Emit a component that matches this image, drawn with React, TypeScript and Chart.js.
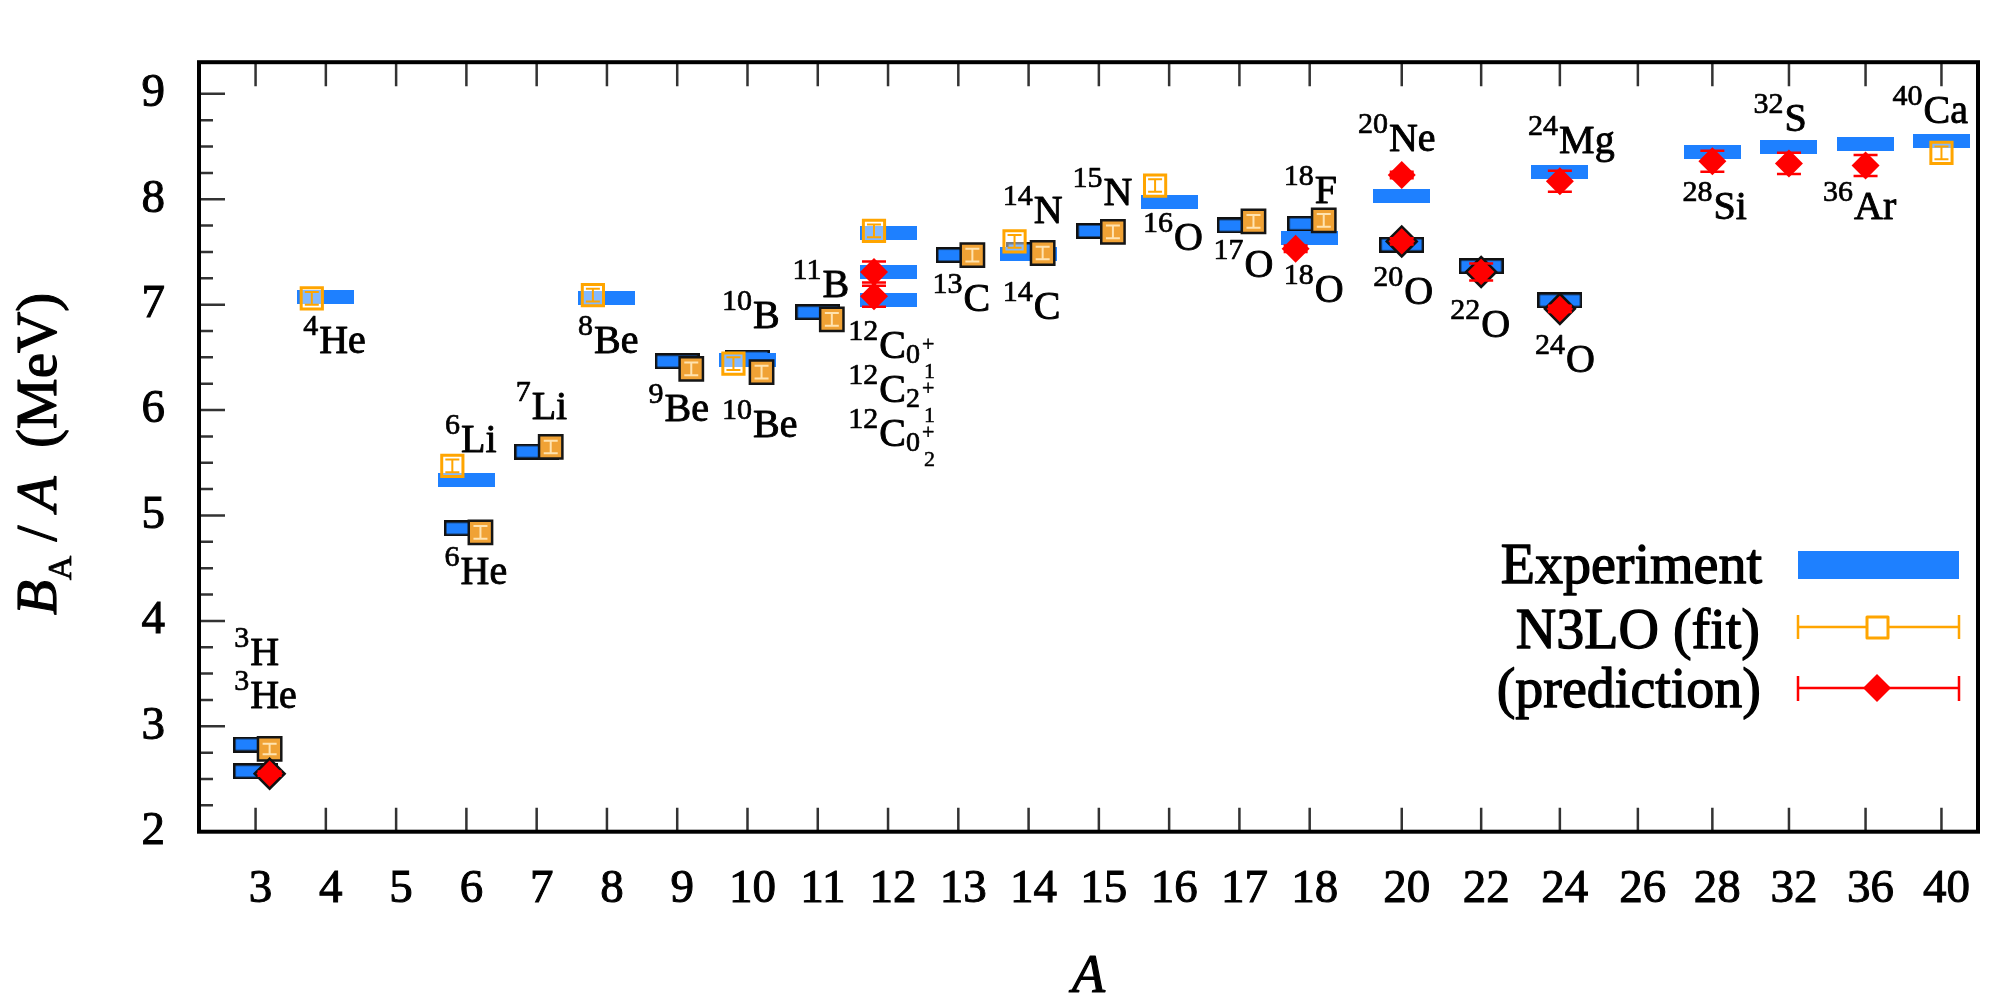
import React, { useEffect, useRef } from 'react';
import { Chart, registerables } from 'chart.js';

Chart.register(...registerables);

// ---------- axis ----------
const tickLabels = ['3', '4', '5', '6', '7', '8', '9', '10', '11', '12', '13', '14', '15', '16', '17', '18', '20', '22', '24', '26', '28', '32', '36', '40'];
// position of each category along the (non-uniform) x axis
const tickSlots = [3, 4, 5, 6, 7, 8, 9, 10, 11, 12, 13, 14, 15, 16, 17, 18, 19.31, 20.44, 21.56, 22.67, 23.73, 24.82, 25.91, 26.99];
const yMajorTicks = [2, 3, 4, 5, 6, 7, 8, 9];
const yMinorTicks = [2.25, 2.5, 2.75, 3.25, 3.5, 3.75, 4.25, 4.5, 4.75, 5.25, 5.5, 5.75, 6.25, 6.5, 6.75, 7.25, 7.5, 7.75, 8.25, 8.5, 8.75];

// ---------- Experiment ----------
const expPlainA = ['4', '6', '8', '10', '12', '12', '12', '14', '16', '18', '20', '24', '28', '32', '36', '40'];
const expPlainVal = [7.074, 5.332, 7.062, 6.475, 7.68, 7.31, 7.04, 7.476, 7.976, 7.632, 8.032, 8.261, 8.448, 8.493, 8.52, 8.551];
const expBoxA = ['3', '3', '6', '7', '9', '10', '11', '13', '14', '15', '17', '18', '20', '22', '24'];
const expBoxVal = [2.827, 2.573, 4.878, 5.606, 6.463, 6.498, 6.928, 7.47, 7.52, 7.699, 7.751, 7.767, 7.568, 7.365, 7.04];

// ---------- N3LO (fit) ----------
const fitOpenA = ['4', '6', '8', '10', '12', '14', '16', '40'];
const fitOpenVal = [7.06, 5.47, 7.09, 6.44, 7.7, 7.6, 8.13, 8.44];
const fitOpenErr = [0.06, 0.06, 0.06, 0.06, 0.06, 0.06, 0.06, 0.06];
const fitFilledA = ['3', '6', '7', '9', '10', '11', '13', '14', '15', '17', '18'];
const fitFilledVal = [2.785, 4.84, 5.65, 6.39, 6.36, 6.86, 7.47, 7.49, 7.69, 7.79, 7.8];
const fitFilledErr = [0.05, 0.06, 0.06, 0.06, 0.06, 0.06, 0.06, 0.06, 0.06, 0.06, 0.06];

// ---------- prediction ----------
const predOpenA = ['12', '12', '18', '20', '24', '28', '32', '36'];
const predOpenVal = [7.31, 7.08, 7.53, 8.23, 8.17, 8.36, 8.34, 8.32];
const predOpenErr = [0.1, 0.1, 0.03, 0.03, 0.1, 0.1, 0.1, 0.1];
const predEdgeA = ['3', '20', '22', '24'];
const predEdgeVal = [2.55, 7.6, 7.31, 6.96];
const predEdgeErr = [0.02, 0.03, 0.08, 0.03];

// ---------- isotope labels: mass, symbol, sub, subsub, x (axis units), y (MeV) ----------
const isoLabels: [string, string, string, string, number, number][] = [
  ['3', 'H', '', '', 2.695, 3.577],
  ['3', 'He', '', '', 2.695, 3.176],
  ['4', 'He', '', '', 3.678, 6.54],
  ['6', 'Li', '', '', 5.697, 5.603],
  ['6', 'He', '', '', 5.69, 4.353],
  ['7', 'Li', '', '', 6.701, 5.918],
  ['8', 'Be', '', '', 7.588, 6.54],
  ['9', 'Be', '', '', 8.593, 5.897],
  ['10', 'Be', '', '', 9.639, 5.748],
  ['10', 'B', '', '', 9.639, 6.774],
  ['11', 'B', '', '', 10.642, 7.072],
  ['12', 'C', '0', '1', 11.433, 6.492],
  ['12', 'C', '2', '1', 11.433, 6.076],
  ['12', 'C', '0', '2', 11.433, 5.659],
  ['13', 'C', '', '', 12.631, 6.938],
  ['14', 'C', '', '', 13.631, 6.863],
  ['14', 'N', '', '', 13.631, 7.771],
  ['15', 'N', '', '', 14.626, 7.95],
  ['16', 'O', '', '', 15.629, 7.518],
  ['17', 'O', '', '', 16.632, 7.265],
  ['18', 'F', '', '', 17.632, 7.965],
  ['18', 'O', '', '', 17.632, 7.028],
  ['20', 'Ne', '', '', 18.687, 8.455],
  ['20', 'O', '', '', 18.906, 7.006],
  ['22', 'O', '', '', 20.0, 6.691],
  ['24', 'O', '', '', 21.207, 6.358],
  ['24', 'Mg', '', '', 21.108, 8.441],
  ['28', 'Si', '', '', 23.306, 7.816],
  ['32', 'S', '', '', 24.315, 8.643],
  ['36', 'Ar', '', '', 25.306, 7.816],
  ['40', 'Ca', '', '', 26.295, 8.723],
];

const legendLabels = ['Experiment', 'N3LO (fit)', '(prediction)'];

const FONT_CANDIDATES = ['Liberation Serif', 'Times New Roman', 'Tinos', 'Nimbus Roman', 'FreeSerif', 'DejaVu Serif'];
let FONT = '"Liberation Serif", serif';
const BLUE = '#1E80FF';
const ORANGE = '#FFA500';
const RED = '#FF0000';

function pickFamily(): string {
  const c = document.createElement('canvas').getContext('2d')!;
  const test = 'Experiment 0123456789 BAMeV (fit)';
  for (const f of FONT_CANDIDATES) {
    c.font = '40px monospace';
    const w0 = c.measureText(test).width;
    c.font = `40px "${f}", monospace`;
    const w1 = c.measureText(test).width;
    if (Math.abs(w1 - w0) > 0.5) return `"${f}", serif`;
  }
  return 'serif';
}

const slotOf = (a: string) => tickSlots[tickLabels.indexOf(a)];
const dodge = (a: string, dir: number) => (Number(a) <= 18 ? dir * 0.2 : 0);
const pts = (A: string[], V: number[], dir: number) => A.map((a, i) => ({ x: slotOf(a) + dodge(a, dir), y: V[i] }));

function makeBar(w: number, h: number, outlined: boolean) {
  const c = document.createElement('canvas');
  c.width = w;
  c.height = h;
  const g = c.getContext('2d')!;
  g.fillStyle = BLUE;
  g.fillRect(0, 0, w, h);
  if (outlined) {
    g.strokeStyle = '#111';
    g.lineWidth = 2.5;
    g.strokeRect(1.25, 1.25, w - 2.5, h - 2.5);
  }
  return c;
}

function txt(ctx: CanvasRenderingContext2D, t: string, x: number, y: number, sw: number) {
  if (sw > 0) {
    ctx.lineWidth = sw;
    ctx.lineJoin = 'round';
    ctx.strokeStyle = '#000';
    ctx.strokeText(t, x, y);
  }
  ctx.fillText(t, x, y);
}

const decorPlugin = {
  id: 'decor',
  afterDatasetsDraw(chart: any) {
    const ctx = chart.ctx;
    const ys = chart.scales.y;
    chart.data.datasets.forEach((ds: any, di: number) => {
      if (!ds.errors) return;
      const meta = chart.getDatasetMeta(di);
      meta.data.forEach((pt: any, i: number) => {
        const v = ds.data[i].y;
        const e = ds.errors[i];
        const y1 = ys.getPixelForValue(v + e);
        const y2 = ys.getPixelForValue(v - e);
        ctx.save();
        ctx.strokeStyle = ds.errColor;
        ctx.lineWidth = ds.errWidth;
        ctx.beginPath();
        ctx.moveTo(pt.x, y1);
        ctx.lineTo(pt.x, y2);
        ctx.moveTo(pt.x - ds.capW, y1);
        ctx.lineTo(pt.x + ds.capW, y1);
        ctx.moveTo(pt.x - ds.capW, y2);
        ctx.lineTo(pt.x + ds.capW, y2);
        ctx.stroke();
        ctx.restore();
      });
    });
  },
  afterDraw(chart: any) {
    const ctx = chart.ctx;
    const { left, right, top, bottom } = chart.chartArea;
    const xs = chart.scales.x;
    const ys = chart.scales.y;
    ctx.save();
    // ticks
    ctx.strokeStyle = '#333';
    ctx.lineWidth = 2.5;
    ctx.beginPath();
    tickSlots.forEach((s) => {
      const x = xs.getPixelForValue(s);
      ctx.moveTo(x, bottom);
      ctx.lineTo(x, bottom - 24);
      ctx.moveTo(x, top);
      ctx.lineTo(x, top + 24);
    });
    yMajorTicks.forEach((v) => {
      const y = ys.getPixelForValue(v);
      ctx.moveTo(left, y);
      ctx.lineTo(left + 26, y);
    });
    yMinorTicks.forEach((v) => {
      const y = ys.getPixelForValue(v);
      ctx.moveTo(left, y);
      ctx.lineTo(left + 14, y);
    });
    ctx.stroke();
    // frame
    ctx.strokeStyle = '#000';
    ctx.lineWidth = 4;
    ctx.strokeRect(left, top, right - left, bottom - top);

    // isotope labels
    ctx.fillStyle = '#000';
    ctx.textBaseline = 'alphabetic';
    ctx.textAlign = 'left';
    isoLabels.forEach(([mass, sym, sub, subsub, sx, sy]) => {
      const x = xs.getPixelForValue(sx);
      const y = ys.getPixelForValue(sy);
      ctx.font = `30px ${FONT}`;
      txt(ctx, mass, x, y - 18, 0.7);
      const wm = ctx.measureText(mass).width;
      ctx.font = `40px ${FONT}`;
      txt(ctx, sym, x + wm + 1, y, 0.9);
      const ws = ctx.measureText(sym).width;
      if (sub) {
        let px = x + wm + 1 + ws;
        ctx.font = `28px ${FONT}`;
        txt(ctx, sub, px, y + 5, 0.7);
        px += ctx.measureText(sub).width + 2;
        ctx.font = `22px ${FONT}`;
        txt(ctx, '+', px, y - 7, 0.5);
        txt(ctx, subsub, px + 2, y + 20, 0.5);
      }
    });

    // legend
    ctx.textAlign = 'right';
    ctx.font = `56px ${FONT}`;
    txt(ctx, legendLabels[0], 1762, 583, 1.3);
    txt(ctx, legendLabels[1], 1760, 648, 1.3);
    txt(ctx, legendLabels[2], 1761, 707, 1.3);
    ctx.fillStyle = BLUE;
    ctx.fillRect(1798, 551, 161, 28);
    // fit sample
    ctx.strokeStyle = ORANGE;
    ctx.lineWidth = 2.5;
    ctx.beginPath();
    ctx.moveTo(1798, 627);
    ctx.lineTo(1959, 627);
    ctx.moveTo(1798, 615);
    ctx.lineTo(1798, 639);
    ctx.moveTo(1959, 615);
    ctx.lineTo(1959, 639);
    ctx.stroke();
    ctx.fillStyle = '#fff';
    ctx.fillRect(1867, 617, 21, 21);
    ctx.lineWidth = 3;
    ctx.strokeRect(1867, 617, 21, 21);
    // prediction sample
    ctx.strokeStyle = RED;
    ctx.lineWidth = 2.5;
    ctx.beginPath();
    ctx.moveTo(1798, 688);
    ctx.lineTo(1959, 688);
    ctx.moveTo(1798, 676);
    ctx.lineTo(1798, 701);
    ctx.moveTo(1959, 676);
    ctx.lineTo(1959, 701);
    ctx.stroke();
    ctx.fillStyle = RED;
    ctx.beginPath();
    ctx.moveTo(1877, 674);
    ctx.lineTo(1891, 688);
    ctx.lineTo(1877, 702);
    ctx.lineTo(1863, 688);
    ctx.closePath();
    ctx.fill();

    // y title
    ctx.fillStyle = '#000';
    ctx.save();
    ctx.translate(56, 440);
    ctx.rotate(-Math.PI / 2);
    ctx.textAlign = 'left';
    const parts: [string, string, number, number][] = [
      ['B', `italic 57px ${FONT}`, 0, 1.2],
      ['A', `34px ${FONT}`, 15, 0.8],
      [' / ', `57px ${FONT}`, 0, 1.2],
      ['A', `italic 57px ${FONT}`, 0, 1.2],
      ['  (MeV)', `57px ${FONT}`, 0, 1.2],
    ];
    let lx = -175;
    parts.forEach(([t, f, dy, sw]) => {
      ctx.font = f;
      txt(ctx, t, lx, dy, sw);
      lx += ctx.measureText(t).width;
    });
    ctx.restore();

    // x title
    ctx.textAlign = 'center';
    ctx.font = `italic 54px ${FONT}`;
    txt(ctx, 'A', (left + right) / 2, 992, 1.2);
    ctx.restore();
  },
};

export default function App() {
  const ref = useRef<HTMLCanvasElement | null>(null);
  useEffect(() => {
    if (!ref.current) return;
    let alive = true;
    FONT = pickFamily();
    const plainImg = makeBar(57, 14, false);
    const boxImg = makeBar(45, 16, true);
    const tickFont = () => ({ family: FONT, size: 47 });
    const chart = new Chart(ref.current, {
      type: 'scatter',
      data: {
        datasets: [
          {
            label: 'prediction',
            data: pts(predOpenA, predOpenVal, -1),
            pointStyle: 'rectRot',
            pointRadius: 14,
            backgroundColor: RED,
            borderColor: RED,
            borderWidth: 0,
            order: 1,
            errors: predOpenErr,
            errColor: RED,
            errWidth: 2.5,
            capW: 12,
          } as any,
          {
            label: 'prediction (edged)',
            data: pts(predEdgeA, predEdgeVal, 1),
            pointStyle: 'rectRot',
            pointRadius: 15,
            backgroundColor: RED,
            borderColor: '#111',
            borderWidth: 2.5,
            order: 1,
            errors: predEdgeErr,
            errColor: RED,
            errWidth: 2.5,
            capW: 12,
          } as any,
          {
            label: 'N3LO (fit)',
            data: pts(fitOpenA, fitOpenVal, -1),
            pointStyle: 'rect',
            pointRadius: 15,
            backgroundColor: 'rgba(255,255,255,0.45)',
            borderColor: ORANGE,
            borderWidth: 3,
            order: 2,
            errors: fitOpenErr,
            errColor: ORANGE,
            errWidth: 2,
            capW: 7,
          } as any,
          {
            label: 'N3LO (fit, edged)',
            data: pts(fitFilledA, fitFilledVal, 1),
            pointStyle: 'rect',
            pointRadius: 16.5,
            backgroundColor: '#F0A235',
            borderColor: '#151515',
            borderWidth: 2.5,
            order: 2,
            errors: fitFilledErr,
            errColor: '#FFE3B0',
            errWidth: 2,
            capW: 7,
          } as any,
          {
            label: 'Experiment',
            data: pts(expPlainA, expPlainVal, 0),
            pointStyle: plainImg as any,
            pointRadius: 5,
            order: 3,
          } as any,
          {
            label: 'Experiment (edged)',
            data: pts(expBoxA, expBoxVal, 0),
            pointStyle: boxImg as any,
            pointRadius: 5,
            order: 3,
          } as any,
        ],
      },
      options: {
        animation: false,
        responsive: false,
        devicePixelRatio: 1,
        events: [],
        layout: { padding: { top: 14, right: 6, left: 0, bottom: 0 } },
        plugins: { legend: { display: false }, tooltip: { enabled: false } },
        scales: {
          x: {
            type: 'linear',
            min: 2.195,
            max: 27.51,
            grid: { display: false, drawTicks: false },
            border: { display: false },
            afterBuildTicks: (s: any) => {
              s.ticks = tickSlots.map((v) => ({ value: v }));
            },
            afterFit: (s: any) => {
              s.height = 165.3;
            },
            ticks: {
              autoSkip: false,
              maxRotation: 0,
              padding: 30,
              labelOffset: 5,
              color: '#000',
              textStrokeColor: '#000',
              textStrokeWidth: 1,
              font: tickFont(),
              callback: (_v: any, i: number) => tickLabels[i],
            },
          },
          y: {
            type: 'linear',
            min: 2,
            max: 9.3,
            grid: { display: false, drawTicks: false },
            border: { display: false },
            afterBuildTicks: (s: any) => {
              s.ticks = yMajorTicks.map((v) => ({ value: v }));
            },
            afterFit: (s: any) => {
              s.width = 199;
            },
            ticks: {
              padding: 34,
              color: '#000',
              textStrokeColor: '#000',
              textStrokeWidth: 1,
              font: tickFont(),
              callback: (v: any) => String(v),
            },
          },
        },
      },
      plugins: [decorPlugin],
    } as any);
    const fonts: any = (document as any).fonts;
    if (fonts && fonts.load) {
      Promise.all(FONT_CANDIDATES.map((f) => fonts.load(`40px "${f}"`).catch(() => null))).then(() => {
        if (!alive) return;
        FONT = pickFamily();
        (chart.options as any).scales.x.ticks.font = tickFont();
        (chart.options as any).scales.y.ticks.font = tickFont();
        chart.update();
      });
    }
    return () => {
      alive = false;
      chart.destroy();
    };
  }, []);
  return (
    <canvas
      ref={ref}
      width={1997}
      height={997}
      style={{ position: 'absolute', left: 0, top: 0, width: 1997, height: 997, display: 'block', background: '#fff' }}
    />
  );
}
